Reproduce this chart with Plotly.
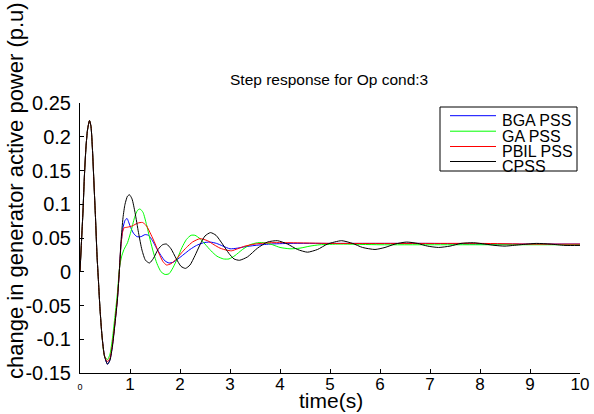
import plotly.graph_objects as go

# ---------------- data ----------------
series_names = ["BGA PSS", "GA PSS", "PBIL PSS", "CPSS"]
series_colors = ["#0000ff", "#00ff00", "#ff0000", "#000000"]

common_t = [0, 0.03, 0.06, 0.09, 0.12, 0.15, 0.19, 0.22, 0.25, 0.28, 0.31, 0.34, 0.37, 0.40, 0.44, 0.49]
common_v = [0, 0.045, 0.09, 0.145, 0.185, 0.21, 0.224, 0.215, 0.18, 0.13, 0.08, 0.025, -0.015, -0.055, -0.095, -0.125]

bga_t = [0.55, 0.6, 0.65, 0.7, 0.75, 0.79, 0.82, 0.86, 0.9, 0.94, 1.0, 1.07, 1.14, 1.22, 1.3, 1.37, 1.45,
         1.53, 1.62, 1.7, 1.78, 1.86, 1.96, 2.08, 2.2, 2.33, 2.47, 2.6, 2.73, 2.86, 3.0, 3.15, 3.3, 3.5,
         3.8, 4.2, 5.0, 6.0, 7.0, 8.0, 9.0, 10.0]
bga_v = [-0.137, -0.13, -0.108, -0.075, -0.038, 0.005, 0.04, 0.065, 0.076, 0.079, 0.068, 0.057, 0.052,
         0.052, 0.055, 0.054, 0.046, 0.035, 0.024, 0.016, 0.013, 0.014, 0.019, 0.026, 0.033, 0.039, 0.043,
         0.044, 0.042, 0.038, 0.034, 0.035, 0.037, 0.039, 0.041, 0.042, 0.042, 0.042, 0.042, 0.041, 0.041, 0.041]

ga_t = [0.55, 0.6, 0.65, 0.7, 0.75, 0.79, 0.83, 0.88, 0.95, 1.02, 1.09, 1.15, 1.2, 1.26, 1.33, 1.4, 1.47,
        1.54, 1.62, 1.7, 1.78, 1.86, 1.95, 2.04, 2.13, 2.22, 2.3, 2.4, 2.5, 2.62, 2.74, 2.87, 2.98, 3.1,
        3.25, 3.4, 3.55, 3.7, 3.85, 4.0, 4.2, 4.4, 4.6, 4.8, 5.2, 6.0, 7.0, 8.0, 9.0, 10.0]
ga_v = [-0.13, -0.122, -0.098, -0.065, -0.03, 0.006, 0.022, 0.033, 0.043, 0.06, 0.08, 0.091, 0.093, 0.088,
        0.07, 0.048, 0.028, 0.012, 0.0, -0.004, -0.003, 0.006, 0.02, 0.036, 0.048, 0.054, 0.054, 0.049,
        0.041, 0.031, 0.023, 0.019, 0.019, 0.024, 0.033, 0.04, 0.043, 0.043, 0.04, 0.036, 0.034, 0.035,
        0.038, 0.04, 0.041, 0.04, 0.04, 0.04, 0.04, 0.04]

pbil_t = [0.55, 0.6, 0.65, 0.7, 0.75, 0.79, 0.82, 0.85, 0.88, 0.95, 1.05, 1.15, 1.25, 1.33, 1.42, 1.5, 1.58,
          1.66, 1.73, 1.82, 1.93, 2.03, 2.13, 2.25, 2.4, 2.55, 2.68, 2.8, 2.93, 3.03, 3.15, 3.3, 3.5, 3.8,
          4.2, 5.0, 6.0, 7.0, 8.0, 9.0, 10.0]
pbil_v = [-0.133, -0.128, -0.107, -0.075, -0.038, 0.005, 0.04, 0.058, 0.065, 0.066, 0.068, 0.072, 0.073,
          0.068, 0.055, 0.042, 0.027, 0.015, 0.01, 0.012, 0.019, 0.028, 0.036, 0.044, 0.049, 0.046, 0.04,
          0.035, 0.032, 0.031, 0.034, 0.038, 0.041, 0.043, 0.043, 0.042, 0.042, 0.042, 0.042, 0.041, 0.041]

cpss_t = [0.55, 0.6, 0.65, 0.7, 0.75, 0.79, 0.82, 0.86, 0.9, 0.95, 0.99, 1.04, 1.1, 1.17, 1.24, 1.31, 1.39,
          1.47, 1.56, 1.65, 1.73, 1.82, 1.92, 2.02, 2.11, 2.2, 2.3, 2.4, 2.5, 2.61, 2.72, 2.85, 2.98, 3.08,
          3.19, 3.35, 3.55, 3.75, 3.95, 4.15, 4.35, 4.55, 4.75, 4.95, 5.23, 5.45, 5.65, 5.9, 6.1, 6.3, 6.53,
          6.75, 6.95, 7.17, 7.4, 7.62, 7.87, 8.1, 8.3, 8.5, 8.8, 9.13, 9.4, 9.7, 10.0]
cpss_v = [-0.137, -0.131, -0.11, -0.077, -0.04, 0.005, 0.045, 0.08, 0.1, 0.112, 0.114, 0.108, 0.088, 0.058,
          0.032, 0.017, 0.013, 0.02, 0.033, 0.04, 0.041, 0.034, 0.02, 0.008, 0.005, 0.01, 0.024, 0.04, 0.053,
          0.058, 0.054, 0.041, 0.027, 0.019, 0.017, 0.022, 0.035, 0.044, 0.046, 0.041, 0.033, 0.029, 0.033,
          0.041, 0.046, 0.042, 0.036, 0.033, 0.036, 0.041, 0.044, 0.042, 0.038, 0.036, 0.038, 0.042, 0.043,
          0.041, 0.039, 0.038, 0.04, 0.042, 0.041, 0.039, 0.039]

x_ticks = [0, 1, 2, 3, 4, 5, 6, 7, 8, 9, 10]
y_ticks = [-0.15, -0.1, -0.05, 0, 0.05, 0.1, 0.15, 0.2, 0.25]
y_tick_text = ["-0.15", "-0.1", "-0.05", "0", "0.05", "0.1", "0.15", "0.2", "0.25"]

title_text = "Step response for Op cond:3"
x_title = "time(s)"
y_title = "change in generator active power (p.u)"

# ---------------- figure ----------------
FONT = "Liberation Sans, Arial, Helvetica, sans-serif"
series_t = [bga_t, ga_t, pbil_t, cpss_t]
series_v = [bga_v, ga_v, pbil_v, cpss_v]

fig = go.Figure()
for name, col, tt, vv in zip(series_names, series_colors, series_t, series_v):
    fig.add_trace(go.Scatter(
        x=common_t + tt, y=common_v + vv, mode="lines", name=name,
        line=dict(color=col, width=1, shape="spline", smoothing=0.6),
        showlegend=False, hoverinfo="skip",
    ))

W, H = 594, 414
L, R, T, B = 80, 14, 103, 41
pw, ph = W - L - R, H - T - B


def px(xp):
    return (xp - L) / pw


def py(yp):
    return (H - B - yp) / ph


x_tick_text = ["<span style='font-size:9px'>%d</span>" % x_ticks[0]] + [str(v) for v in x_ticks[1:]]

fig.update_layout(
    width=W, height=H,
    margin=dict(l=L, r=R, t=T, b=B, autoexpand=False),
    paper_bgcolor="white", plot_bgcolor="white",
    font=dict(family=FONT, color="black"),
    showlegend=False,
    xaxis=dict(range=[0, 10], tickvals=x_ticks, ticktext=x_tick_text, ticks="inside", ticklen=4,
               tickcolor="black", showline=True, linecolor="black", linewidth=1, showgrid=False,
               zeroline=False, tickfont=dict(size=17, family=FONT), mirror=False,
               ticklabelstandoff=-4, automargin=False),
    yaxis=dict(range=[-0.15, 0.25], tickvals=y_ticks, ticktext=y_tick_text, ticks="inside", ticklen=4,
               tickcolor="black", showline=True, linecolor="black", linewidth=1, showgrid=False,
               zeroline=False, tickfont=dict(size=20, family=FONT), mirror=False,
               ticklabelstandoff=4, automargin=False),
)

annotations = [
    dict(text=title_text, x=px(329), y=py(80), xref="paper", yref="paper", showarrow=False,
         xanchor="center", yanchor="middle", font=dict(size=15.5, family=FONT)),
    dict(text=x_title, x=px(331), y=py(400), xref="paper", yref="paper", showarrow=False,
         xanchor="center", yanchor="middle", font=dict(size=21, family=FONT)),
    dict(text=y_title, x=px(15), y=py(191), xref="paper", yref="paper", showarrow=False,
         xanchor="center", yanchor="middle", textangle=-90, font=dict(size=22, family=FONT)),
]

shapes = [dict(type="rect", xref="paper", yref="paper", x0=px(440), x1=px(577), y0=py(171), y1=py(107),
               line=dict(color="black", width=1), fillcolor="white", layer="above")]
row_y = [115.7, 131.2, 146.5, 161.5]
for name, col, ry in zip(series_names, series_colors, row_y):
    shapes.append(dict(type="line", xref="paper", yref="paper", x0=px(450), x1=px(496), y0=py(ry), y1=py(ry),
                       line=dict(color=col, width=1), layer="above"))
    annotations.append(dict(text=name, x=px(500), y=py(ry + 5), xref="paper", yref="paper", showarrow=False,
                            xanchor="left", yanchor="middle", font=dict(size=16, family=FONT)))

fig.update_layout(annotations=annotations, shapes=shapes)
fig.write_html("out.html", config={"displayModeBar": False, "staticPlot": True},
               post_script="document.body.style.margin='0px';document.body.style.overflow='hidden';")
